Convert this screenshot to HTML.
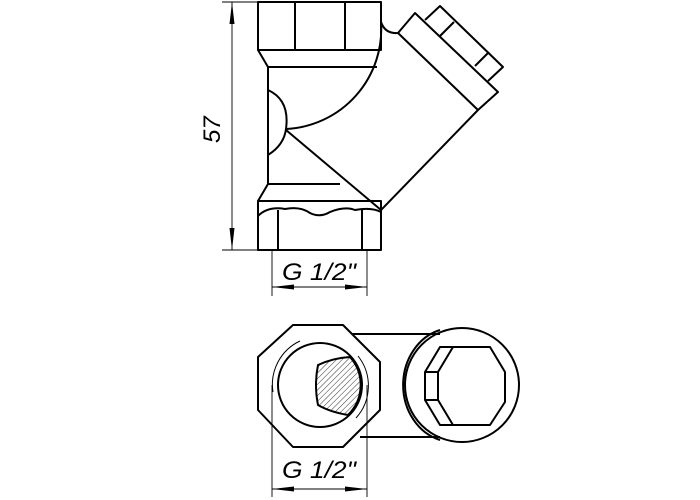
<!DOCTYPE html>
<html><head><style>html,body{margin:0;padding:0;background:#fff}svg{display:block}</style></head>
<body>
<svg width="700" height="500" viewBox="0 0 700 500" xmlns="http://www.w3.org/2000/svg">
<defs>
<pattern id="h" width="4" height="4" patternUnits="userSpaceOnUse" patternTransform="rotate(45)">
<line x1="0" y1="0" x2="0" y2="4" stroke="#000" stroke-width="0.8"/></pattern>
</defs>
<g fill="none" stroke="#000" stroke-width="2" stroke-linejoin="round">
<rect x="258" y="2" width="123" height="48"/>
<line x1="295" y1="2" x2="295" y2="50"/><line x1="345" y1="2" x2="345" y2="50"/>
<path d="M258,50 L268,67 L377,67"/>
<path d="M268,67 L268,184 L340,184"/>
<path d="M268,184 L258,201 L381,201"/>
<rect x="258" y="201" width="123" height="49"/>
<path d="M258,216 Q268,206 285,209 Q300,206 310,213 Q320,218 330,212 Q345,206 355,210 Q372,207 381,212"/>
<line x1="278" y1="210" x2="278" y2="250"/><line x1="362" y1="210" x2="362" y2="250"/>
<path d="M381,22 A100,100 0 0 1 286,129"/>
<path d="M268,90 Q290,100 286,129 Q284,145 268,155"/>
<line x1="286" y1="130" x2="381" y2="210"/>
<line x1="381" y1="210" x2="478" y2="110"/>
<path d="M381,22 Q385,34 398,33"/>
<path d="M398,33 L415,13 L498,92 L478,110 Z"/>
<path d="M425,20 L440,6 L503,67 L488,81"/>
<line x1="440" y1="36" x2="454" y2="22"/><line x1="475" y1="66" x2="489" y2="52"/>
<path d="M293,325 L343,325 L380,362 L380,410 L343,447 L293,447 L258,410 L258,357 Z"/>
<circle cx="320" cy="385" r="42"/>
<path d="M358,356 A48,48 0 0 1 356,418" stroke-width="1"/>
<path d="M273,392 A48,48 0 0 1 300,341" stroke-width="1"/>
<path d="M318,365 Q333,358 350,357 A42,42 0 0 1 348,415 Q330,412 318,405 Q314,385 318,365 Z" fill="url(#h)"/>
<line x1="352" y1="334" x2="440" y2="334"/><line x1="360" y1="437" x2="440" y2="437"/>
<path d="M440,330 A50,57 0 0 0 440,440"/>
<circle cx="462" cy="385" r="57"/>
<path d="M440,347 L490,347 L505,372 L505,402 L490,425 L440,425 L425,400 L425,372 Z"/>
<path d="M425,372 L438,372 L453,347 M438,372 L438,400 L425,400 M438,400 L453,425"/>
</g>
<g stroke="#000" stroke-width="0.9" fill="none">
<line x1="222" y1="2" x2="258" y2="2"/><line x1="222" y1="250" x2="258" y2="250"/>
<line x1="232" y1="2" x2="232" y2="250"/>
<line x1="272" y1="250" x2="272" y2="296"/><line x1="367" y1="250" x2="367" y2="296"/>
<line x1="272" y1="287" x2="367" y2="287"/>
<line x1="272" y1="385" x2="272" y2="497"/><line x1="367" y1="385" x2="367" y2="497"/>
<line x1="272" y1="489" x2="367" y2="489"/>
</g>
<g fill="#000">
<path d="M232,2 L229.5,24 L234.5,24 Z"/><path d="M232,250 L229.5,228 L234.5,228 Z"/>
<path d="M272,287 L294,284.5 L294,289.5 Z"/><path d="M367,287 L345,284.5 L345,289.5 Z"/>
<path d="M272,489 L294,486.5 L294,491.5 Z"/><path d="M367,489 L345,486.5 L345,491.5 Z"/>
</g>
<g font-family="Liberation Sans Narrow, Liberation Sans, sans-serif" font-size="24" font-style="italic" fill="#000">
<text x="0" y="0" transform="translate(220,143) rotate(-90)">57</text>
<text x="282" y="280" textLength="74" lengthAdjust="spacingAndGlyphs">G 1/2"</text>
<text x="282" y="478" textLength="74" lengthAdjust="spacingAndGlyphs">G 1/2"</text>
</g>
</svg>
</body></html>
